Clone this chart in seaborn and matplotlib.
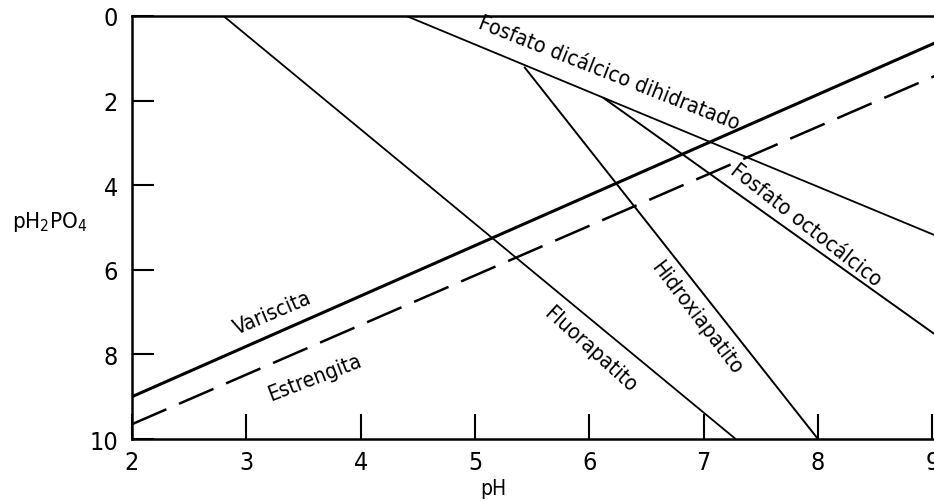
import matplotlib
matplotlib.use("Agg")
import matplotlib.pyplot as plt
from matplotlib import font_manager
import seaborn as sns
import pandas as pd

# Solubility lines of calcium and aluminium/iron phosphates (pH vs pH2PO4)
ph_fluorapatito = [2.8, 7.28]
p_fluorapatito = [0.0, 10.0]

ph_dicalcico = [4.4, 9.02]
p_dicalcico = [0.0, 5.18]

ph_hidroxiapatito = [5.43, 8.0]
p_hidroxiapatito = [1.2, 10.0]

ph_octocalcico = [6.12, 9.02]
p_octocalcico = [1.93, 7.52]

ph_variscita = [2.0, 9.02]
p_variscita = [9.0, 0.64]

ph_estrengita = [2.0, 9.02]
p_estrengita = [9.65, 1.42]

x_ticks = [2, 3, 4, 5, 6, 7, 8, 9]
y_ticks = [0, 2, 4, 6, 8, 10]

sns.set_style("ticks")
plt.rcParams["font.family"] = ["DejaVu Sans"]
plt.rcParams["font.stretch"] = "condensed"
condensed = any(f.name == "DejaVu Sans" and f.stretch == "condensed"
                for f in font_manager.fontManager.ttflist)

fig = plt.figure(figsize=(9.34, 5.02), dpi=100)
ax = fig.add_axes([132 / 934, 1 - 440 / 502, 1 - 132 / 934, (440 - 17) / 502])


def draw(ph, p, lw, dashes=None):
    df = pd.DataFrame({"pH": ph, "pH2PO4": p})
    sns.lineplot(data=df, x="pH", y="pH2PO4", ax=ax, color="black",
                 linewidth=lw, solid_capstyle="butt")
    line = ax.lines[-1]
    if dashes is not None:
        line.set_linestyle((0, dashes))


draw(ph_fluorapatito, p_fluorapatito, 1.3)
draw(ph_dicalcico, p_dicalcico, 1.3)
draw(ph_hidroxiapatito, p_hidroxiapatito, 1.4)
draw(ph_octocalcico, p_octocalcico, 1.4)
draw(ph_variscita, p_variscita, 2.2)
draw(ph_estrengita, p_estrengita, 1.8, dashes=(15, 5.5))

ax.set_xlim(2, 9.015)
ax.set_ylim(10, 0)
ax.set_xticks(x_ticks)
ax.set_yticks(y_ticks)
ax.set_xlabel("")
ax.set_ylabel("")

for side in ("left", "top", "bottom"):
    ax.spines[side].set_linewidth(1.8)
    ax.spines[side].set_color("black")
ax.spines["right"].set_visible(False)

tick_size = 18 if condensed else 16
ax.tick_params(axis="y", direction="in", length=16, width=1.5, pad=10,
               labelsize=tick_size, colors="black")
ax.tick_params(axis="x", direction="in", length=18, width=1.5, pad=8,
               labelsize=tick_size, colors="black")

lab_size = 15.5 if condensed else 13.5
labels = [
    ("Fosfato dicálcico dihidratado", 6.17, 1.33, -21.5),
    ("Fosfato octocálcico", 7.89, 4.92, -38),
    ("Hidroxiapatito", 6.94, 7.12, -52.5),
    ("Fluorapatito", 6.01, 7.87, -42),
    ("Variscita", 3.23, 7.0, 23),
    ("Estrengita", 3.60, 8.53, 21),
]
for text, x, y, rot in labels:
    ax.text(x, y, text, rotation=rot, rotation_mode="anchor",
            ha="center", va="center", fontsize=lab_size, color="black")

fig.text(12 / 934, 1 - 222 / 502, r"pH$_2$PO$_4$", ha="left", va="center",
         fontsize=tick_size - 2, color="black")
fig.text(493 / 934, 1 - 489 / 502, "pH", ha="center", va="center",
         fontsize=tick_size - 3, color="black")

fig.savefig("out.png", dpi=100)
